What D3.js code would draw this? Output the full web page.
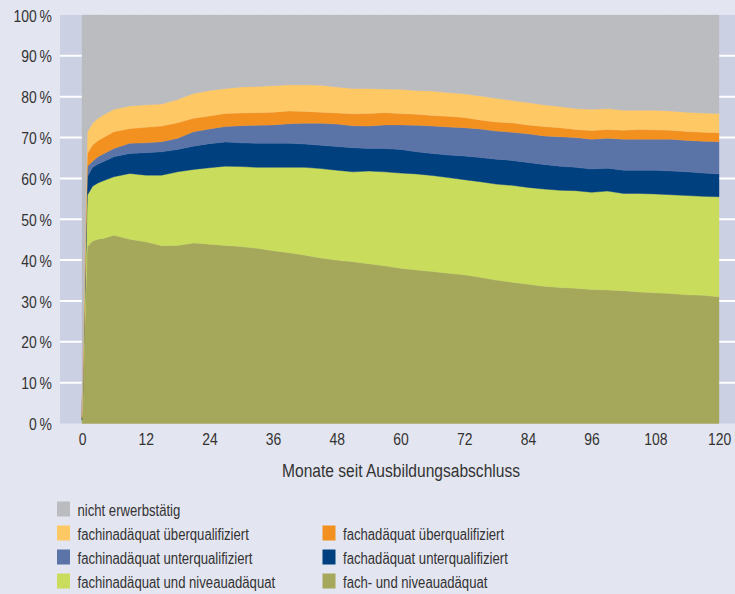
<!DOCTYPE html>
<html>
<head>
<meta charset="utf-8">
<script src="https://cdn.jsdelivr.net/npm/d3@7"></script>
<style>
  body { margin: 0; background: #e3e5f0; }
  svg { display: block; font-family: "Liberation Sans", Arial, sans-serif; }
  text { fill: #333; }
</style>
</head>
<body>
<div id="chart"></div>
<script>
// Monate seit Ausbildungsabschluss
const months = [0, 1, 2, 3, 4, 6, 9, 12, 15, 18, 21, 24, 27, 30, 33, 36, 39, 42, 45, 48, 51, 54, 57, 60,
  63, 66, 69, 72, 75, 78, 81, 84, 87, 90, 93, 96, 99, 102, 105, 108, 111, 114, 117, 120];

// shares in percent, bottom to top
const fachNiveau = [0.5, 43.3, 44.7, 45.1, 45.3, 46.1, 45.1, 44.5, 43.5, 43.6, 44.2, 43.9, 43.6, 43.3, 42.9, 42.3, 41.8, 41.2, 40.5, 40.0, 39.6, 39.1, 38.6, 38.0,
  37.6, 37.2, 36.8, 36.4, 35.8, 35.1, 34.6, 34.1, 33.6, 33.3, 33.1, 32.8, 32.7, 32.5, 32.2, 32.0, 31.8, 31.5, 31.4, 31.0];
const fachinNiveau = [0.3, 12.6, 13.4, 13.8, 14.1, 14.3, 16.1, 16.3, 17.3, 18.0, 18.0, 18.7, 19.4, 19.6, 19.8, 20.4, 20.9, 21.5, 21.9, 22.0, 22.0, 22.7, 23.0, 23.3,
  23.5, 23.5, 23.4, 23.3, 23.4, 23.5, 23.7, 23.7, 23.8, 23.8, 23.9, 23.8, 24.2, 23.8, 24.1, 24.2, 24.2, 24.3, 24.2, 24.5];
const fachUnter = [0.2, 4.5, 4.6, 4.6, 4.7, 4.9, 4.9, 5.5, 5.7, 5.5, 5.7, 5.9, 5.9, 5.8, 5.9, 5.9, 5.9, 5.7, 5.7, 5.8, 5.9, 5.5, 5.7, 5.8,
  5.4, 5.4, 5.5, 5.8, 5.9, 6.1, 6.1, 6.1, 6.0, 5.9, 5.7, 5.7, 5.6, 5.7, 5.7, 5.8, 5.8, 5.8, 5.7, 5.6];
const fachinUnter = [0.2, 2.5, 1.5, 1.8, 1.9, 2.0, 2.5, 2.4, 2.5, 2.7, 3.5, 3.6, 3.8, 4.2, 4.4, 4.5, 4.8, 5.1, 5.4, 5.5, 5.4, 5.5, 5.8, 6.0,
  6.5, 6.7, 6.9, 6.9, 7.0, 6.9, 6.9, 7.0, 7.0, 7.2, 7.3, 7.3, 7.3, 7.6, 7.6, 7.6, 7.8, 7.7, 7.8, 7.9];
const fachUeber = [0.3, 3.2, 4.0, 3.9, 4.0, 4.1, 3.6, 3.8, 3.8, 3.8, 3.3, 3.2, 3.2, 3.1, 3.1, 3.1, 3.1, 2.9, 2.7, 2.7, 2.9, 3.1, 3.0, 2.8,
  2.7, 2.6, 2.6, 2.5, 2.2, 2.2, 2.3, 2.2, 2.3, 2.2, 2.0, 2.1, 2.2, 2.2, 2.4, 2.3, 2.2, 2.2, 2.2, 2.2];
const fachinUeber = [0.5, 5.3, 5.3, 5.5, 5.5, 5.5, 5.5, 5.5, 5.4, 5.7, 6.1, 6.2, 6.1, 6.4, 6.4, 6.5, 6.4, 6.5, 6.6, 6.4, 6.2, 6.1, 5.8, 5.9,
  5.8, 6.0, 5.8, 5.8, 5.9, 5.8, 5.5, 5.5, 5.3, 5.2, 5.1, 5.2, 5.1, 4.9, 4.7, 4.8, 4.7, 4.7, 4.7, 4.7];
const nichtErwerbstaetig = [98.0, 28.6, 26.5, 25.3, 24.5, 23.1, 22.3, 22.0, 21.8, 20.7, 19.2, 18.5, 18.0, 17.6, 17.5, 17.3, 17.1, 17.1, 17.2, 17.6, 18.0, 18.0, 18.1, 18.2,
  18.5, 18.6, 19.0, 19.3, 19.8, 20.4, 20.9, 21.4, 22.0, 22.4, 22.9, 23.1, 22.9, 23.3, 23.3, 23.3, 23.5, 23.8, 24.0, 24.1];

const seriesKeys = ["fachNiveau", "fachinNiveau", "fachUnter", "fachinUnter", "fachUeber", "fachinUeber", "nicht"];
const seriesNames = {
  nicht: "nicht erwerbstätig",
  fachinUeber: "fachinadäquat überqualifiziert",
  fachUeber: "fachadäquat überqualifiziert",
  fachinUnter: "fachinadäquat unterqualifiziert",
  fachUnter: "fachadäquat unterqualifiziert",
  fachinNiveau: "fachinadäquat und niveauadäquat",
  fachNiveau: "fach- und niveauadäquat"
};
const colors = {
  nicht: "#bbbcc0",
  fachinUeber: "#fec865",
  fachUeber: "#f39120",
  fachinUnter: "#5b74a8",
  fachUnter: "#00407f",
  fachinNiveau: "#cadc5c",
  fachNiveau: "#a5a85a"
};
const xTicks = [0, 12, 24, 36, 48, 60, 72, 84, 96, 108, 120];
const yTicks = [0, 10, 20, 30, 40, 50, 60, 70, 80, 90, 100];
const legendRows = [["nicht"], ["fachinUeber", "fachUeber"], ["fachinUnter", "fachUnter"], ["fachinNiveau", "fachNiveau"]];

const table = months.map((m, i) => ({
  month: m,
  fachNiveau: fachNiveau[i],
  fachinNiveau: fachinNiveau[i],
  fachUnter: fachUnter[i],
  fachinUnter: fachinUnter[i],
  fachUeber: fachUeber[i],
  fachinUeber: fachinUeber[i],
  nicht: nichtErwerbstaetig[i]
}));

const width = 735;
const height = 594;
const panel = { left: 60, right: 735, top: 15, bottom: 423.5 };
const narrow = "scale(0.82,1)"; // the original uses a condensed face

const svg = d3.select("#chart").append("svg")
  .attr("width", width)
  .attr("height", height);

const x = d3.scaleLinear().domain([0, 120]).range([82, 719]);
const y = d3.scaleLinear().domain([0, 1]).range([panel.bottom, panel.top]);
const yPct = d3.scaleLinear().domain([0, 100]).range([panel.bottom, panel.top]);

// panel background
svg.append("rect")
  .attr("x", panel.left)
  .attr("y", panel.top)
  .attr("width", panel.right - panel.left)
  .attr("height", panel.bottom - panel.top)
  .attr("fill", "#cbd0e3");

// white gridlines
svg.append("g").selectAll("line")
  .data(yTicks.filter(d => d > 0 && d < 100))
  .enter().append("line")
  .attr("x1", panel.left)
  .attr("x2", panel.right)
  .attr("y1", d => yPct(d))
  .attr("y2", d => yPct(d))
  .attr("stroke", "#fff")
  .attr("stroke-width", 2);

const stack = d3.stack().keys(seriesKeys).offset(d3.stackOffsetExpand);
const layers = stack(table);

const area = d3.area()
  .x(d => x(d.data.month))
  .y0(d => y(d[0]))
  .y1(d => y(d[1]));

svg.append("g").selectAll("path")
  .data(layers)
  .enter().append("path")
  .attr("fill", d => colors[d.key])
  .attr("stroke", d => colors[d.key])
  .attr("stroke-width", 0.4)
  .attr("d", area);

// y axis labels
const yAxis = svg.append("g")
  .attr("transform", "translate(52,0)")
  .call(d3.axisLeft(yPct).tickValues(yTicks).tickSize(0).tickPadding(0).tickFormat(d => d + "\u2009%"));
yAxis.select(".domain").remove();
yAxis.selectAll("text")
  .attr("font-size", 17)
  .attr("fill", "#333")
  .attr("dy", "0.36em")
  .attr("transform", narrow);

// x axis labels
const xAxis = svg.append("g")
  .attr("transform", "translate(0,433)")
  .call(d3.axisBottom(x).tickValues(xTicks).tickSize(0).tickPadding(0));
xAxis.select(".domain").remove();
xAxis.selectAll("text")
  .attr("font-size", 17)
  .attr("fill", "#333")
  .attr("dy", "0.72em")
  .attr("transform", narrow);
svg.selectAll(".tick text").attr("font-family", null);
svg.selectAll("g[font-family]").attr("font-family", null);

svg.append("text")
  .attr("transform", `translate(401,477) ${narrow}`)
  .attr("text-anchor", "middle")
  .attr("font-size", 19)
  .text("Monate seit Ausbildungsabschluss");

// legend
const legend = svg.append("g");
legendRows.forEach((row, r) => {
  row.forEach((key, c) => {
    const g = legend.append("g")
      .attr("transform", `translate(${c === 0 ? 57 : 322.5},${501.5 + r * 24})`);
    g.append("rect")
      .attr("width", 13)
      .attr("height", 15)
      .attr("fill", colors[key]);
    g.append("text")
      .attr("transform", `translate(20.5,14.5) ${narrow}`)
      .attr("font-size", 16)
      .text(seriesNames[key]);
  });
});
</script>
</body>
</html>
